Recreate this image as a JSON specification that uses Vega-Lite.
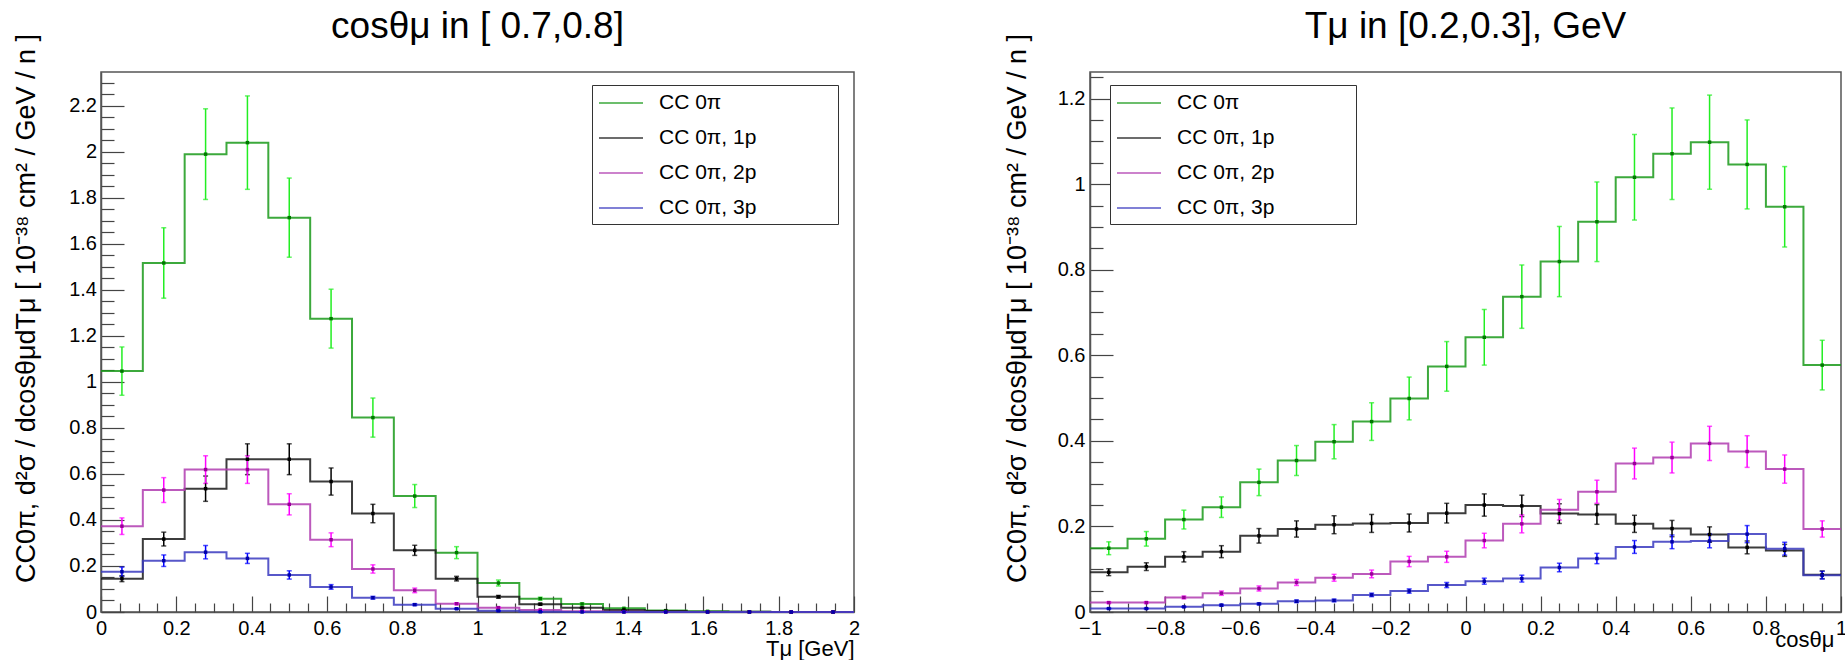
{
  "$schema": "https://vega.github.io/schema/vega-lite/v6.json",
  "padding": {"left": 11, "top": 6, "right": 0, "bottom": 0},
  "background": "#ffffff",
  "config": {
    "font": "Liberation Sans",
    "view": {"stroke": "#555555", "strokeWidth": 1.5},
    "axis": {"grid": false, "domainColor": "#555555", "domainWidth": 1.5, "tickColor": "#444444", "tickWidth": 1.2, "labelColor": "#000000", "titleColor": "#000000", "labelFont": "Liberation Sans", "titleFont": "Liberation Sans", "titleFontWeight": "normal", "zindex": 1, "labelOverlap": false, "labelFlush": false}
  },
  "datasets": {
    "L": [
      {"s":"CC 0π","x0":0,"x1":0.1111,"x":0.0556,"v":1.047,"e":0.105},
      {"s":"CC 0π","x0":0.1111,"x1":0.2222,"x":0.1667,"v":1.517,"e":0.153},
      {"s":"CC 0π","x0":0.2222,"x1":0.3333,"x":0.2778,"v":1.99,"e":0.197},
      {"s":"CC 0π","x0":0.3333,"x1":0.4444,"x":0.3889,"v":2.04,"e":0.203},
      {"s":"CC 0π","x0":0.4444,"x1":0.5556,"x":0.5,"v":1.714,"e":0.172},
      {"s":"CC 0π","x0":0.5556,"x1":0.6667,"x":0.6111,"v":1.275,"e":0.128},
      {"s":"CC 0π","x0":0.6667,"x1":0.7778,"x":0.7222,"v":0.845,"e":0.085},
      {"s":"CC 0π","x0":0.7778,"x1":0.8889,"x":0.8333,"v":0.504,"e":0.05},
      {"s":"CC 0π","x0":0.8889,"x1":1,"x":0.9444,"v":0.258,"e":0.026},
      {"s":"CC 0π","x0":1,"x1":1.1111,"x":1.0556,"v":0.126,"e":0.013},
      {"s":"CC 0π","x0":1.1111,"x1":1.2222,"x":1.1667,"v":0.058,"e":0.006},
      {"s":"CC 0π","x0":1.2222,"x1":1.3333,"x":1.2778,"v":0.035,"e":0.004},
      {"s":"CC 0π","x0":1.3333,"x1":1.4444,"x":1.3889,"v":0.016,"e":0.002},
      {"s":"CC 0π","x0":1.4444,"x1":1.5556,"x":1.5,"v":0.006,"e":0.001},
      {"s":"CC 0π","x0":1.5556,"x1":1.6667,"x":1.6111,"v":0.003,"e":0.001},
      {"s":"CC 0π","x0":1.6667,"x1":1.7778,"x":1.7222,"v":0.001,"e":0},
      {"s":"CC 0π","x0":1.7778,"x1":1.8889,"x":1.8333,"v":0,"e":0},
      {"s":"CC 0π","x0":1.8889,"x1":2,"x":1.9444,"v":0,"e":0},
      {"s":"CC 0π, 1p","x0":0,"x1":0.1111,"x":0.0556,"v":0.145,"e":0.013},
      {"s":"CC 0π, 1p","x0":0.1111,"x1":0.2222,"x":0.1667,"v":0.317,"e":0.03},
      {"s":"CC 0π, 1p","x0":0.2222,"x1":0.3333,"x":0.2778,"v":0.536,"e":0.055},
      {"s":"CC 0π, 1p","x0":0.3333,"x1":0.4444,"x":0.3889,"v":0.664,"e":0.067},
      {"s":"CC 0π, 1p","x0":0.4444,"x1":0.5556,"x":0.5,"v":0.664,"e":0.067},
      {"s":"CC 0π, 1p","x0":0.5556,"x1":0.6667,"x":0.6111,"v":0.567,"e":0.059},
      {"s":"CC 0π, 1p","x0":0.6667,"x1":0.7778,"x":0.7222,"v":0.428,"e":0.04},
      {"s":"CC 0π, 1p","x0":0.7778,"x1":0.8889,"x":0.8333,"v":0.268,"e":0.022},
      {"s":"CC 0π, 1p","x0":0.8889,"x1":1,"x":0.9444,"v":0.145,"e":0.01},
      {"s":"CC 0π, 1p","x0":1,"x1":1.1111,"x":1.0556,"v":0.066,"e":0.006},
      {"s":"CC 0π, 1p","x0":1.1111,"x1":1.2222,"x":1.1667,"v":0.034,"e":0.004},
      {"s":"CC 0π, 1p","x0":1.2222,"x1":1.3333,"x":1.2778,"v":0.018,"e":0.002},
      {"s":"CC 0π, 1p","x0":1.3333,"x1":1.4444,"x":1.3889,"v":0.009,"e":0.001},
      {"s":"CC 0π, 1p","x0":1.4444,"x1":1.5556,"x":1.5,"v":0.004,"e":0.001},
      {"s":"CC 0π, 1p","x0":1.5556,"x1":1.6667,"x":1.6111,"v":0.001,"e":0},
      {"s":"CC 0π, 1p","x0":1.6667,"x1":1.7778,"x":1.7222,"v":0.001,"e":0},
      {"s":"CC 0π, 1p","x0":1.7778,"x1":1.8889,"x":1.8333,"v":0,"e":0},
      {"s":"CC 0π, 1p","x0":1.8889,"x1":2,"x":1.9444,"v":0,"e":0},
      {"s":"CC 0π, 2p","x0":0,"x1":0.1111,"x":0.0556,"v":0.373,"e":0.036},
      {"s":"CC 0π, 2p","x0":0.1111,"x1":0.2222,"x":0.1667,"v":0.53,"e":0.054},
      {"s":"CC 0π, 2p","x0":0.2222,"x1":0.3333,"x":0.2778,"v":0.619,"e":0.06},
      {"s":"CC 0π, 2p","x0":0.3333,"x1":0.4444,"x":0.3889,"v":0.619,"e":0.06},
      {"s":"CC 0π, 2p","x0":0.4444,"x1":0.5556,"x":0.5,"v":0.468,"e":0.046},
      {"s":"CC 0π, 2p","x0":0.5556,"x1":0.6667,"x":0.6111,"v":0.314,"e":0.03},
      {"s":"CC 0π, 2p","x0":0.6667,"x1":0.7778,"x":0.7222,"v":0.187,"e":0.018},
      {"s":"CC 0π, 2p","x0":0.7778,"x1":0.8889,"x":0.8333,"v":0.094,"e":0.01},
      {"s":"CC 0π, 2p","x0":0.8889,"x1":1,"x":0.9444,"v":0.036,"e":0.004},
      {"s":"CC 0π, 2p","x0":1,"x1":1.1111,"x":1.0556,"v":0.019,"e":0.002},
      {"s":"CC 0π, 2p","x0":1.1111,"x1":1.2222,"x":1.1667,"v":0.009,"e":0.001},
      {"s":"CC 0π, 2p","x0":1.2222,"x1":1.3333,"x":1.2778,"v":0.003,"e":0},
      {"s":"CC 0π, 2p","x0":1.3333,"x1":1.4444,"x":1.3889,"v":0.001,"e":0},
      {"s":"CC 0π, 2p","x0":1.4444,"x1":1.5556,"x":1.5,"v":0,"e":0},
      {"s":"CC 0π, 2p","x0":1.5556,"x1":1.6667,"x":1.6111,"v":0,"e":0},
      {"s":"CC 0π, 2p","x0":1.6667,"x1":1.7778,"x":1.7222,"v":0,"e":0},
      {"s":"CC 0π, 2p","x0":1.7778,"x1":1.8889,"x":1.8333,"v":0,"e":0},
      {"s":"CC 0π, 2p","x0":1.8889,"x1":2,"x":1.9444,"v":0,"e":0},
      {"s":"CC 0π, 3p","x0":0,"x1":0.1111,"x":0.0556,"v":0.175,"e":0.02},
      {"s":"CC 0π, 3p","x0":0.1111,"x1":0.2222,"x":0.1667,"v":0.223,"e":0.025},
      {"s":"CC 0π, 3p","x0":0.2222,"x1":0.3333,"x":0.2778,"v":0.26,"e":0.029},
      {"s":"CC 0π, 3p","x0":0.3333,"x1":0.4444,"x":0.3889,"v":0.233,"e":0.022},
      {"s":"CC 0π, 3p","x0":0.4444,"x1":0.5556,"x":0.5,"v":0.161,"e":0.018},
      {"s":"CC 0π, 3p","x0":0.5556,"x1":0.6667,"x":0.6111,"v":0.109,"e":0.01},
      {"s":"CC 0π, 3p","x0":0.6667,"x1":0.7778,"x":0.7222,"v":0.062,"e":0.006},
      {"s":"CC 0π, 3p","x0":0.7778,"x1":0.8889,"x":0.8333,"v":0.032,"e":0.004},
      {"s":"CC 0π, 3p","x0":0.8889,"x1":1,"x":0.9444,"v":0.014,"e":0.002},
      {"s":"CC 0π, 3p","x0":1,"x1":1.1111,"x":1.0556,"v":0.005,"e":0.001},
      {"s":"CC 0π, 3p","x0":1.1111,"x1":1.2222,"x":1.1667,"v":0.001,"e":0},
      {"s":"CC 0π, 3p","x0":1.2222,"x1":1.3333,"x":1.2778,"v":0,"e":0},
      {"s":"CC 0π, 3p","x0":1.3333,"x1":1.4444,"x":1.3889,"v":0,"e":0},
      {"s":"CC 0π, 3p","x0":1.4444,"x1":1.5556,"x":1.5,"v":0,"e":0},
      {"s":"CC 0π, 3p","x0":1.5556,"x1":1.6667,"x":1.6111,"v":0,"e":0},
      {"s":"CC 0π, 3p","x0":1.6667,"x1":1.7778,"x":1.7222,"v":0,"e":0},
      {"s":"CC 0π, 3p","x0":1.7778,"x1":1.8889,"x":1.8333,"v":0,"e":0},
      {"s":"CC 0π, 3p","x0":1.8889,"x1":2,"x":1.9444,"v":0,"e":0}
    ],
    "R": [
      {"s":"CC 0π","x0":-1,"x1":-0.9,"x":-0.95,"v":0.149,"e":0.015},
      {"s":"CC 0π","x0":-0.9,"x1":-0.8,"x":-0.85,"v":0.171,"e":0.017},
      {"s":"CC 0π","x0":-0.8,"x1":-0.7,"x":-0.75,"v":0.216,"e":0.022},
      {"s":"CC 0π","x0":-0.7,"x1":-0.6,"x":-0.65,"v":0.245,"e":0.024},
      {"s":"CC 0π","x0":-0.6,"x1":-0.5,"x":-0.55,"v":0.303,"e":0.031},
      {"s":"CC 0π","x0":-0.5,"x1":-0.4,"x":-0.45,"v":0.354,"e":0.035},
      {"s":"CC 0π","x0":-0.4,"x1":-0.3,"x":-0.35,"v":0.398,"e":0.04},
      {"s":"CC 0π","x0":-0.3,"x1":-0.2,"x":-0.25,"v":0.445,"e":0.044},
      {"s":"CC 0π","x0":-0.2,"x1":-0.1,"x":-0.15,"v":0.499,"e":0.05},
      {"s":"CC 0π","x0":-0.1,"x1":0,"x":-0.05,"v":0.574,"e":0.058},
      {"s":"CC 0π","x0":0,"x1":0.1,"x":0.05,"v":0.642,"e":0.065},
      {"s":"CC 0π","x0":0.1,"x1":0.2,"x":0.15,"v":0.737,"e":0.074},
      {"s":"CC 0π","x0":0.2,"x1":0.3,"x":0.25,"v":0.819,"e":0.082},
      {"s":"CC 0π","x0":0.3,"x1":0.4,"x":0.35,"v":0.912,"e":0.093},
      {"s":"CC 0π","x0":0.4,"x1":0.5,"x":0.45,"v":1.016,"e":0.1},
      {"s":"CC 0π","x0":0.5,"x1":0.6,"x":0.55,"v":1.071,"e":0.107},
      {"s":"CC 0π","x0":0.6,"x1":0.7,"x":0.65,"v":1.098,"e":0.11},
      {"s":"CC 0π","x0":0.7,"x1":0.8,"x":0.75,"v":1.046,"e":0.104},
      {"s":"CC 0π","x0":0.8,"x1":0.9,"x":0.85,"v":0.947,"e":0.094},
      {"s":"CC 0π","x0":0.9,"x1":1,"x":0.95,"v":0.577,"e":0.058},
      {"s":"CC 0π, 1p","x0":-1,"x1":-0.9,"x":-0.95,"v":0.093,"e":0.008},
      {"s":"CC 0π, 1p","x0":-0.9,"x1":-0.8,"x":-0.85,"v":0.106,"e":0.009},
      {"s":"CC 0π, 1p","x0":-0.8,"x1":-0.7,"x":-0.75,"v":0.129,"e":0.012},
      {"s":"CC 0π, 1p","x0":-0.7,"x1":-0.6,"x":-0.65,"v":0.141,"e":0.014},
      {"s":"CC 0π, 1p","x0":-0.6,"x1":-0.5,"x":-0.55,"v":0.178,"e":0.017},
      {"s":"CC 0π, 1p","x0":-0.5,"x1":-0.4,"x":-0.45,"v":0.194,"e":0.019},
      {"s":"CC 0π, 1p","x0":-0.4,"x1":-0.3,"x":-0.35,"v":0.204,"e":0.021},
      {"s":"CC 0π, 1p","x0":-0.3,"x1":-0.2,"x":-0.25,"v":0.207,"e":0.021},
      {"s":"CC 0π, 1p","x0":-0.2,"x1":-0.1,"x":-0.15,"v":0.208,"e":0.021},
      {"s":"CC 0π, 1p","x0":-0.1,"x1":0,"x":-0.05,"v":0.231,"e":0.023},
      {"s":"CC 0π, 1p","x0":0,"x1":0.1,"x":0.05,"v":0.25,"e":0.026},
      {"s":"CC 0π, 1p","x0":0.1,"x1":0.2,"x":0.15,"v":0.248,"e":0.025},
      {"s":"CC 0π, 1p","x0":0.2,"x1":0.3,"x":0.25,"v":0.23,"e":0.023},
      {"s":"CC 0π, 1p","x0":0.3,"x1":0.4,"x":0.35,"v":0.228,"e":0.023},
      {"s":"CC 0π, 1p","x0":0.4,"x1":0.5,"x":0.45,"v":0.206,"e":0.02},
      {"s":"CC 0π, 1p","x0":0.5,"x1":0.6,"x":0.55,"v":0.195,"e":0.019},
      {"s":"CC 0π, 1p","x0":0.6,"x1":0.7,"x":0.65,"v":0.181,"e":0.018},
      {"s":"CC 0π, 1p","x0":0.7,"x1":0.8,"x":0.75,"v":0.151,"e":0.015},
      {"s":"CC 0π, 1p","x0":0.8,"x1":0.9,"x":0.85,"v":0.144,"e":0.014},
      {"s":"CC 0π, 1p","x0":0.9,"x1":1,"x":0.95,"v":0.087,"e":0.009},
      {"s":"CC 0π, 2p","x0":-1,"x1":-0.9,"x":-0.95,"v":0.022,"e":0.002},
      {"s":"CC 0π, 2p","x0":-0.9,"x1":-0.8,"x":-0.85,"v":0.022,"e":0.002},
      {"s":"CC 0π, 2p","x0":-0.8,"x1":-0.7,"x":-0.75,"v":0.034,"e":0.003},
      {"s":"CC 0π, 2p","x0":-0.7,"x1":-0.6,"x":-0.65,"v":0.044,"e":0.005},
      {"s":"CC 0π, 2p","x0":-0.6,"x1":-0.5,"x":-0.55,"v":0.055,"e":0.006},
      {"s":"CC 0π, 2p","x0":-0.5,"x1":-0.4,"x":-0.45,"v":0.069,"e":0.007},
      {"s":"CC 0π, 2p","x0":-0.4,"x1":-0.3,"x":-0.35,"v":0.08,"e":0.008},
      {"s":"CC 0π, 2p","x0":-0.3,"x1":-0.2,"x":-0.25,"v":0.089,"e":0.009},
      {"s":"CC 0π, 2p","x0":-0.2,"x1":-0.1,"x":-0.15,"v":0.118,"e":0.012},
      {"s":"CC 0π, 2p","x0":-0.1,"x1":0,"x":-0.05,"v":0.129,"e":0.013},
      {"s":"CC 0π, 2p","x0":0,"x1":0.1,"x":0.05,"v":0.167,"e":0.017},
      {"s":"CC 0π, 2p","x0":0.1,"x1":0.2,"x":0.15,"v":0.206,"e":0.021},
      {"s":"CC 0π, 2p","x0":0.2,"x1":0.3,"x":0.25,"v":0.239,"e":0.024},
      {"s":"CC 0π, 2p","x0":0.3,"x1":0.4,"x":0.35,"v":0.281,"e":0.027},
      {"s":"CC 0π, 2p","x0":0.4,"x1":0.5,"x":0.45,"v":0.347,"e":0.036},
      {"s":"CC 0π, 2p","x0":0.5,"x1":0.6,"x":0.55,"v":0.361,"e":0.036},
      {"s":"CC 0π, 2p","x0":0.6,"x1":0.7,"x":0.65,"v":0.394,"e":0.04},
      {"s":"CC 0π, 2p","x0":0.7,"x1":0.8,"x":0.75,"v":0.375,"e":0.037},
      {"s":"CC 0π, 2p","x0":0.8,"x1":0.9,"x":0.85,"v":0.334,"e":0.033},
      {"s":"CC 0π, 2p","x0":0.9,"x1":1,"x":0.95,"v":0.194,"e":0.019},
      {"s":"CC 0π, 3p","x0":-1,"x1":-0.9,"x":-0.95,"v":0.008,"e":0.001},
      {"s":"CC 0π, 3p","x0":-0.9,"x1":-0.8,"x":-0.85,"v":0.008,"e":0.001},
      {"s":"CC 0π, 3p","x0":-0.8,"x1":-0.7,"x":-0.75,"v":0.012,"e":0.001},
      {"s":"CC 0π, 3p","x0":-0.7,"x1":-0.6,"x":-0.65,"v":0.016,"e":0.002},
      {"s":"CC 0π, 3p","x0":-0.6,"x1":-0.5,"x":-0.55,"v":0.019,"e":0.002},
      {"s":"CC 0π, 3p","x0":-0.5,"x1":-0.4,"x":-0.45,"v":0.025,"e":0.003},
      {"s":"CC 0π, 3p","x0":-0.4,"x1":-0.3,"x":-0.35,"v":0.027,"e":0.003},
      {"s":"CC 0π, 3p","x0":-0.3,"x1":-0.2,"x":-0.25,"v":0.04,"e":0.004},
      {"s":"CC 0π, 3p","x0":-0.2,"x1":-0.1,"x":-0.15,"v":0.049,"e":0.005},
      {"s":"CC 0π, 3p","x0":-0.1,"x1":0,"x":-0.05,"v":0.063,"e":0.006},
      {"s":"CC 0π, 3p","x0":0,"x1":0.1,"x":0.05,"v":0.072,"e":0.007},
      {"s":"CC 0π, 3p","x0":0.1,"x1":0.2,"x":0.15,"v":0.078,"e":0.008},
      {"s":"CC 0π, 3p","x0":0.2,"x1":0.3,"x":0.25,"v":0.104,"e":0.01},
      {"s":"CC 0π, 3p","x0":0.3,"x1":0.4,"x":0.35,"v":0.125,"e":0.012},
      {"s":"CC 0π, 3p","x0":0.4,"x1":0.5,"x":0.45,"v":0.152,"e":0.015},
      {"s":"CC 0π, 3p","x0":0.5,"x1":0.6,"x":0.55,"v":0.164,"e":0.016},
      {"s":"CC 0π, 3p","x0":0.6,"x1":0.7,"x":0.65,"v":0.166,"e":0.016},
      {"s":"CC 0π, 3p","x0":0.7,"x1":0.8,"x":0.75,"v":0.182,"e":0.02},
      {"s":"CC 0π, 3p","x0":0.8,"x1":0.9,"x":0.85,"v":0.148,"e":0.015},
      {"s":"CC 0π, 3p","x0":0.9,"x1":1,"x":0.95,"v":0.086,"e":0.009}
    ]
  },
  "bounds": "flush",
  "spacing": 236,
  "resolve": {"scale": {"stroke": "independent", "color": "independent", "fill": "independent"}, "legend": {"stroke": "independent"}},
  "hconcat": [
    {
      "width": 753,
      "height": 540,
      "data": {"name": "L"},
      "title": {"text": "cosθμ in [ 0.7,0.8]", "font": "Liberation Sans", "fontSize": 37, "fontWeight": "normal", "color": "#000000", "anchor": "middle", "baseline": "alphabetic", "offset": -41},
      "layer": [
        {
          "transform": [{"fold": ["x0", "x1"], "as": ["key", "edge"]}],
          "mark": {"type": "line", "strokeWidth": 2, "opacity": 0.85},
          "encoding": {
            "x": {"field": "edge", "type": "quantitative", "scale": {"domain": [0, 2], "nice": false, "zero": false},
              "axis": {"orient": "bottom", "values": [0, 0.2, 0.4, 0.6, 0.8, 1, 1.2, 1.4, 1.6, 1.8, 2], "format": "~g", "tickSize": -16, "labelPadding": 38, "labelBaseline": "alphabetic", "labelFontSize": 20,
                "title": "Tμ [GeV]", "titleFontSize": 22, "titleX": 753, "titleY": 43, "titleAlign": "right", "titleBaseline": "alphabetic"}},
            "y": {"field": "v", "type": "quantitative", "scale": {"domain": [0, 2.347], "nice": false, "zero": false},
              "axis": {"orient": "left", "values": [0, 0.2, 0.4, 0.6, 0.8, 1, 1.2, 1.4, 1.6, 1.8, 2, 2.2], "format": "~g", "tickSize": -23, "labelPadding": 27.5, "labelFontSize": 20,
                "title": "CC0π, d²σ / dcosθμdTμ [ 10⁻³⁸ cm² / GeV / n ]", "titleFontSize": 27, "titleAngle": 270, "titleX": -75, "titleY": 236, "titleAlign": "center", "titleBaseline": "middle"}},
            "stroke": {"field": "s", "type": "nominal",
              "scale": {"domain": ["CC 0π", "CC 0π, 1p", "CC 0π, 2p", "CC 0π, 3p"], "range": ["#1a9a1a", "#1a1a1a", "#b03cb0", "#3a3abf"]},
              "legend": {"orient": "none", "legendX": 491, "legendY": 13, "title": null, "symbolType": "M-1,0H3M19.9,0", "symbolSize": 484, "symbolStrokeWidth": 1.5, "labelFontSize": 21, "labelFont": "Liberation Sans", "labelColor": "#000000", "labelOffset": 37, "rowPadding": 13, "padding": 6, "strokeColor": "#333333", "fillColor": "#ffffff", "labelLimit": 400}},
            "order": [{"field": "edge", "type": "quantitative"}, {"field": "key", "type": "nominal", "sort": "descending"}]
          }
        },
        {
          "mark": {"type": "errorbar", "ticks": {"size": 5}, "thickness": 1.5},
          "encoding": {
            "x": {"field": "x", "type": "quantitative", "scale": {"domain": [0, 2], "nice": false, "zero": false},
              "axis": {"orient": "bottom", "values": [0.05,0.1,0.15,0.25,0.3,0.35,0.45,0.5,0.55,0.65,0.7,0.75,0.85,0.9,0.95,1.05,1.1,1.15,1.25,1.3,1.35,1.45,1.5,1.55,1.65,1.7,1.75,1.85,1.9,1.95], "labels": false, "domain": false, "title": null, "tickSize": -9}},
            "y": {"field": "v", "type": "quantitative", "scale": {"domain": [0, 2.347], "nice": false, "zero": false},
              "axis": {"orient": "left", "values": [0.05,0.1,0.15,0.25,0.3,0.35,0.45,0.5,0.55,0.65,0.7,0.75,0.85,0.9,0.95,1.05,1.1,1.15,1.25,1.3,1.35,1.45,1.5,1.55,1.65,1.7,1.75,1.85,1.9,1.95,2.05,2.1,2.15,2.25,2.3], "labels": false, "domain": false, "title": null, "tickSize": -13}},
            "yError": {"field": "e"},
            "color": {"field": "s", "type": "nominal", "legend": null,
              "scale": {"domain": ["CC 0π", "CC 0π, 1p", "CC 0π, 2p", "CC 0π, 3p"], "range": ["#22ee22", "#000000", "#ff00ff", "#0000ff"]}}
          }
        },
        {
          "mark": {"type": "square", "size": 12, "opacity": 1},
          "encoding": {
            "x": {"field": "x", "type": "quantitative", "scale": {"domain": [0, 2], "nice": false, "zero": false}, "axis": null},
            "y": {"field": "v", "type": "quantitative", "scale": {"domain": [0, 2.347], "nice": false, "zero": false}, "axis": null},
            "fill": {"field": "s", "type": "nominal", "legend": null,
              "scale": {"domain": ["CC 0π", "CC 0π, 1p", "CC 0π, 2p", "CC 0π, 3p"], "range": ["#007700", "#000000", "#990099", "#0000aa"]}}
          }
        }
      ],
      "resolve": {"axis": {"x": "independent", "y": "independent"}}
    },
    {
      "width": 751,
      "height": 540,
      "data": {"name": "R"},
      "title": {"text": "Tμ in [0.2,0.3], GeV", "font": "Liberation Sans", "fontSize": 37, "fontWeight": "normal", "color": "#000000", "anchor": "middle", "baseline": "alphabetic", "offset": -41},
      "layer": [
        {
          "transform": [{"fold": ["x0", "x1"], "as": ["key", "edge"]}],
          "mark": {"type": "line", "strokeWidth": 2, "opacity": 0.85},
          "encoding": {
            "x": {"field": "edge", "type": "quantitative", "scale": {"domain": [-1, 1], "nice": false, "zero": false},
              "axis": {"orient": "bottom", "values": [-1, -0.8, -0.6, -0.4, -0.2, 0, 0.2, 0.4, 0.6, 0.8, 1], "format": "~g", "tickSize": -16, "labelPadding": 38, "labelBaseline": "alphabetic", "labelFontSize": 20,
                "title": "cosθμ", "titleFontSize": 22, "titleX": 744, "titleY": 34, "titleAlign": "right", "titleBaseline": "alphabetic"}},
            "y": {"field": "v", "type": "quantitative", "scale": {"domain": [0, 1.262], "nice": false, "zero": false},
              "axis": {"orient": "left", "values": [0, 0.2, 0.4, 0.6, 0.8, 1, 1.2], "format": "~g", "tickSize": -23, "labelPadding": 28, "labelFontSize": 20,
                "title": "CC0π, d²σ / dcosθμdTμ [ 10⁻³⁸ cm² / GeV / n ]", "titleFontSize": 27, "titleAngle": 270, "titleX": -73, "titleY": 236, "titleAlign": "center", "titleBaseline": "middle"}},
            "stroke": {"field": "s", "type": "nominal",
              "scale": {"domain": ["CC 0π", "CC 0π, 1p", "CC 0π, 2p", "CC 0π, 3p"], "range": ["#1a9a1a", "#1a1a1a", "#b03cb0", "#3a3abf"]},
              "legend": {"orient": "none", "legendX": 20, "legendY": 13, "title": null, "symbolType": "M-1,0H3M19.9,0", "symbolSize": 484, "symbolStrokeWidth": 1.5, "labelFontSize": 21, "labelFont": "Liberation Sans", "labelColor": "#000000", "labelOffset": 37, "rowPadding": 13, "padding": 6, "strokeColor": "#333333", "fillColor": "#ffffff", "labelLimit": 400}},
            "order": [{"field": "edge", "type": "quantitative"}, {"field": "key", "type": "nominal", "sort": "descending"}]
          }
        },
        {
          "mark": {"type": "errorbar", "ticks": {"size": 5}, "thickness": 1.5},
          "encoding": {
            "x": {"field": "x", "type": "quantitative", "scale": {"domain": [-1, 1], "nice": false, "zero": false},
              "axis": {"orient": "bottom", "values": [-0.95,-0.9,-0.85,-0.75,-0.7,-0.65,-0.55,-0.5,-0.45,-0.35,-0.3,-0.25,-0.15,-0.1,-0.05,0.05,0.1,0.15,0.25,0.3,0.35,0.45,0.5,0.55,0.65,0.7,0.75,0.85,0.9,0.95], "labels": false, "domain": false, "title": null, "tickSize": -9}},
            "y": {"field": "v", "type": "quantitative", "scale": {"domain": [0, 1.262], "nice": false, "zero": false},
              "axis": {"orient": "left", "values": [0.05,0.1,0.15,0.25,0.3,0.35,0.45,0.5,0.55,0.65,0.7,0.75,0.85,0.9,0.95,1.05,1.1,1.15,1.25], "labels": false, "domain": false, "title": null, "tickSize": -13}},
            "yError": {"field": "e"},
            "color": {"field": "s", "type": "nominal", "legend": null,
              "scale": {"domain": ["CC 0π", "CC 0π, 1p", "CC 0π, 2p", "CC 0π, 3p"], "range": ["#22ee22", "#000000", "#ff00ff", "#0000ff"]}}
          }
        },
        {
          "mark": {"type": "square", "size": 12, "opacity": 1},
          "encoding": {
            "x": {"field": "x", "type": "quantitative", "scale": {"domain": [-1, 1], "nice": false, "zero": false}, "axis": null},
            "y": {"field": "v", "type": "quantitative", "scale": {"domain": [0, 1.262], "nice": false, "zero": false}, "axis": null},
            "fill": {"field": "s", "type": "nominal", "legend": null,
              "scale": {"domain": ["CC 0π", "CC 0π, 1p", "CC 0π, 2p", "CC 0π, 3p"], "range": ["#007700", "#000000", "#990099", "#0000aa"]}}
          }
        }
      ],
      "resolve": {"axis": {"x": "independent", "y": "independent"}}
    }
  ]
}
